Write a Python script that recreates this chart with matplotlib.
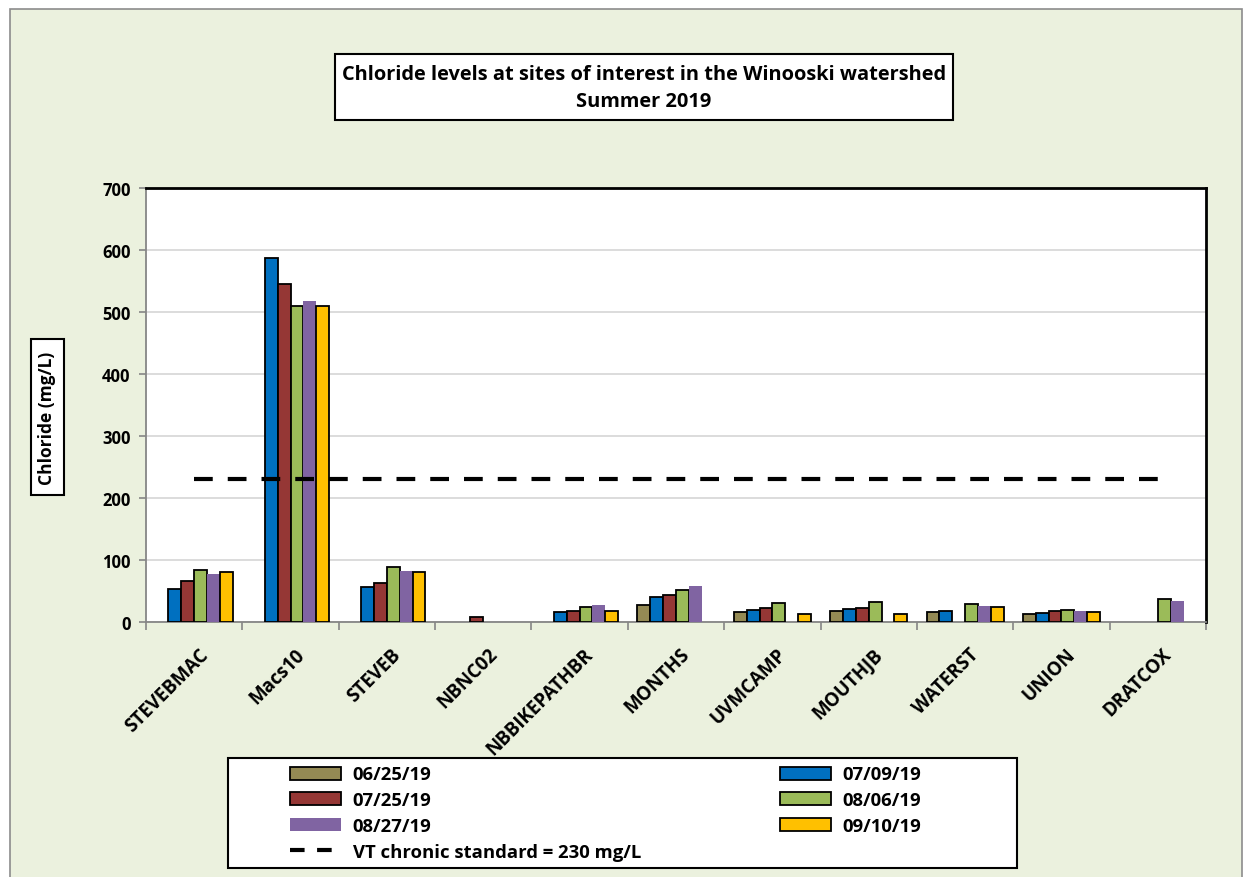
import numpy as np
import matplotlib
matplotlib.use("Agg")
import matplotlib.pyplot as plt
from matplotlib.patches import Rectangle
from matplotlib.lines import Line2D
from matplotlib.transforms import ScaledTranslation

plt.rcParams['font.family'] = ['Open Sans', 'DejaVu Sans']
plt.rcParams['font.weight'] = 'bold'

# sites and sampling dates
sites = ["STEVEBMAC", "Macs10", "STEVEB", "NBNC02", "NBBIKEPATHBR", "MONTHS",
         "UVMCAMP", "MOUTHJB", "WATERST", "UNION", "DRATCOX"]
dates = ["06/25/19", "07/09/19", "07/25/19", "08/06/19", "08/27/19", "09/10/19"]
nan = np.nan

# chloride (mg/L), one list per date, nan = no sample
d0625 = [nan, nan, nan, nan, nan, 28, 16, 18, 16, 13, nan]
d0709 = [53, 587, 56, nan, 16, 41, 20, 21, 18, 15, nan]
d0725 = [66, 545, 63, 8, 18, 44, 23, 23, nan, 18, nan]
d0806 = [84, 510, 89, nan, 25, 52, 31, 32, 29, 19, 37]
d0827 = [78, 518, 82, nan, 27, 58, nan, nan, 26, 17, 34]
d0910 = [81, 510, 81, nan, 17, nan, 13, 13, 25, 16, nan]
series = [d0625, d0709, d0725, d0806, d0827, d0910]
colors = ["#948A54", "#0070C0", "#953735", "#9BBB59", "#8064A2", "#FFC000"]
edges = ["black", "black", "black", "black", "none", "black"]

vt_standard = 230
yticks = [0, 100, 200, 300, 400, 500, 600, 700]

W, H = 1243, 878
def fx(px):
    return px / W
def fy(py):
    return 1 - py / H

bg = "#EBF1DE"
fig = plt.figure(figsize=(W / 100, H / 100), dpi=100, facecolor="white")
fig.add_artist(Rectangle((fx(10), fy(900)), fx(1232), 890 / H, transform=fig.transFigure,
                         facecolor=bg, edgecolor="#8C8C8C", linewidth=1.2, zorder=-10))

ax = fig.add_axes([fx(146), fy(623), fx(1060), 434 / H])
ax.set_facecolor("white")

x = np.arange(len(sites))
w = 0.8 / len(series)
handles = []
for i, vals in enumerate(series):
    v = np.array(vals, dtype=float)
    ok = ~np.isnan(v)
    ax.bar(x[ok] + (i - 2.5) * w, v[ok], width=w, color=colors[i],
           edgecolor=edges[i], linewidth=1.3, zorder=3)
    handles.append(Rectangle((0, 0), 1, 1, facecolor=colors[i], edgecolor=edges[i], linewidth=1.3))

ax.plot(x, [vt_standard] * len(x), color="black", linewidth=3, linestyle=(0, (4.5, 3.6)), zorder=4)

ax.set_xlim(-0.5, len(sites) - 0.5)
ax.set_ylim(0, 700)
ax.set_yticks(yticks)
ax.set_yticklabels([str(t) for t in yticks], fontsize=12, fontweight="bold")
ax.yaxis.grid(True, color="#D9D9D9", linewidth=1.3, zorder=0)
ax.tick_params(axis="y", length=5, color="#868686", width=1.2, pad=6)
ax.set_xticks(np.arange(len(sites) + 1) - 0.5)
ax.set_xticklabels([])
ax.tick_params(axis="x", length=6, color="#868686", width=1.2)

for s in ["left", "bottom"]:
    ax.spines[s].set_color("#868686")
    ax.spines[s].set_linewidth(1.3)
for s in ["top", "right"]:
    ax.spines[s].set_color("black")
    ax.spines[s].set_linewidth(2)

# rotated category labels
off = ScaledTranslation(11 / 100, -29 / 100, fig.dpi_scale_trans)
for xi, name in zip(x, sites):
    ax.text(xi, 0, name, transform=ax.get_xaxis_transform() + off, rotation=45,
            rotation_mode="anchor", ha="right", va="center", fontsize=13.5, fontweight="bold")

# title box
fig.add_artist(Rectangle((fx(335), fy(121)), fx(618), 66 / H, transform=fig.transFigure,
                         facecolor="white", edgecolor="black", linewidth=1.5))
fig.text(fx(644), fy(75), "Chloride levels at sites of interest in the Winooski watershed",
         ha="center", va="center", fontsize=14.4, fontweight="bold")
fig.text(fx(644), fy(102), "Summer 2019", ha="center", va="center", fontsize=14.4, fontweight="bold")

# y label box
fig.add_artist(Rectangle((fx(31), fy(496)), fx(33), 156 / H, transform=fig.transFigure,
                         facecolor="white", edgecolor="black", linewidth=1.5))
fig.text(fx(47.5), fy(418), "Chloride (mg/L)", rotation=90, ha="center", va="center",
         fontsize=12.5, fontweight="bold")

# legend box
fig.add_artist(Rectangle((fx(228), fy(869)), fx(789), 110 / H, transform=fig.transFigure,
                         facecolor="white", edgecolor="black", linewidth=1.5))
line_h = Line2D([], [], color="black", linewidth=3, linestyle=(0, (3.5, 3)))
leg_handles = [handles[0], handles[2], handles[4], line_h, handles[1], handles[3], handles[5]]
leg_labels = [dates[0], dates[2], dates[4], "VT chronic standard = %d mg/L" % vt_standard,
              dates[1], dates[3], dates[5]]
fig.legend(leg_handles, leg_labels, ncol=2, frameon=False, loc="upper left",
           bbox_to_anchor=(fx(290), fy(766.5)), borderpad=0, borderaxespad=0,
           handlelength=2.75, handleheight=0.7, handletextpad=0.65, columnspacing=7.5,
           labelspacing=0.42, prop={"size": 13.3, "weight": "bold"})

plt.savefig("out.png", dpi=100, facecolor="white")
